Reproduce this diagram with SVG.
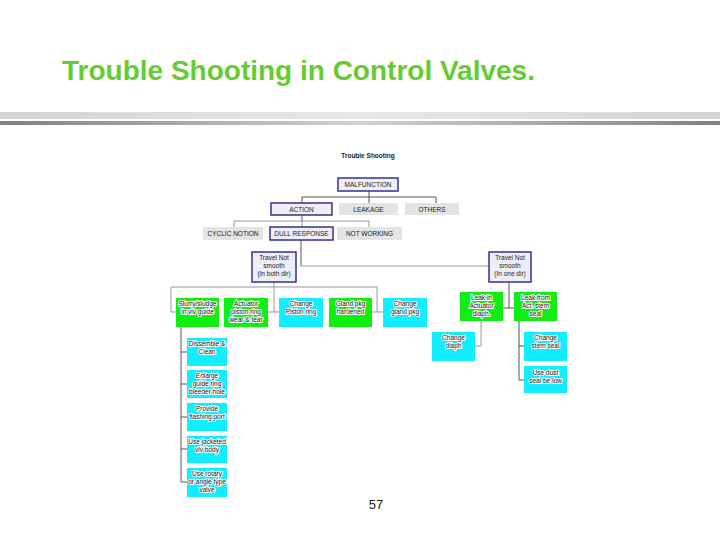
<svg xmlns="http://www.w3.org/2000/svg" width="720" height="540" viewBox="0 0 720 540">
<defs>
<linearGradient id="gLight" x1="0" x2="1" y1="0" y2="0">
<stop offset="0" stop-color="#d4d4d4"/><stop offset="0.5" stop-color="#e8e8e8"/><stop offset="1" stop-color="#d4d4d4"/>
</linearGradient>
<linearGradient id="gDark" x1="0" x2="1" y1="0" y2="0">
<stop offset="0" stop-color="#808080"/><stop offset="0.5" stop-color="#d2d2d2"/><stop offset="1" stop-color="#808080"/>
</linearGradient>
<style>
.title{font-family:"Liberation Sans",Arial,sans-serif;font-weight:bold;font-size:28px;fill:#66cc33}
.t{font-family:"Liberation Sans",Arial,sans-serif;font-size:6.5px;fill:#222;text-anchor:middle}
.tw{font-family:"Liberation Sans",Arial,sans-serif;font-size:6.5px;fill:#111;text-anchor:middle;stroke:#fff;stroke-width:2;paint-order:stroke}
.gray{fill:#e4e4e4}
.blue{fill:#eeeef8;stroke:#333388;stroke-width:1.5}
.green{fill:#11ee11}
.cyan{fill:#11eeff}
.ln{fill:none;stroke:#999;stroke-width:1}
.dk{fill:none;stroke:#555;stroke-width:1}
</style>
</defs>
<rect width="720" height="540" fill="#fff"/>
<text class="title" x="62" y="80">Trouble Shooting in Control Valves.</text>
<rect x="0" y="112" width="720" height="7" fill="url(#gLight)"/>
<rect x="0" y="121" width="720" height="4" fill="url(#gDark)"/>
<text x="368" y="158" style="font-family:'Liberation Sans',Arial,sans-serif;font-weight:bold;font-size:6.5px;fill:#222" text-anchor="middle">Trouble Shooting</text>

<g id="connectors">
<path class="dk" d="M369 191V197M302 197H436M302 197V203M369 197V203M436 197V203"/>
<path class="dk" d="M302 215V221"/>
<path class="ln" d="M234 221H369M234 221V227M302 221V227M369 221V227"/>
<path class="dk" d="M301 240V266"/>
<path class="ln" d="M301 266H490"/>
<path class="ln" d="M274 282V287M171 287H377M171 287V312H176M274 287V312M268 312H279M377 287V312M372 312H383"/>
<path class="dk" d="M181 327V482M181 352H187M181 384H187M181 417H187M181 449H187M181 482H187"/>
<path class="dk" d="M509 282V308M502 308H514"/>
<path class="ln" d="M481 321V346H475"/>
<path class="dk" d="M519 321V380H524M519 346H524"/>
</g>

<g id="malfunction"><rect class="blue" x="338" y="178" width="60" height="13"/><text class="t" x="368" y="187">MALFUNCTION</text></g>
<g id="action"><rect class="blue" x="271" y="203" width="61" height="12"/><text class="t" x="301.5" y="211.5">ACTION</text></g>
<g id="leakage"><rect class="gray" x="339" y="203" width="59" height="12"/><text class="t" x="368.5" y="211.5" fill="#555">LEAKAGE</text></g>
<g id="others"><rect class="gray" x="405" y="203" width="54" height="12"/><text class="t" x="432" y="211.5">OTHERS</text></g>
<g id="cyclic"><rect class="gray" x="203" y="227" width="60" height="13"/><text class="t" x="233" y="236">CYCLIC NOTION</text></g>
<g id="dull"><rect class="blue" x="270" y="227" width="63" height="13"/><text class="t" x="301.5" y="236">DULL RESPONSE</text></g>
<g id="notworking"><rect class="gray" x="337" y="227" width="65" height="13"/><text class="t" x="369.5" y="236">NOT WORKING</text></g>

<g id="travel-both"><rect class="blue" x="252" y="252" width="44" height="30"/><text class="t" x="274" y="260">Travel Not</text><text class="t" x="274" y="268">smooth</text><text class="t" x="274" y="276">(In both dir)</text></g>
<g id="travel-one"><rect class="blue" x="489" y="252" width="42" height="30"/><text class="t" x="510" y="260">Travel Not</text><text class="t" x="510" y="268">smooth</text><text class="t" x="510" y="276">(In one dir)</text></g>

<g id="slurry"><rect class="green" x="176" y="298" width="43" height="29"/><text class="tw" x="197.5" y="306">Slurry/sludge</text><text class="tw" x="197.5" y="314">in vlv guide</text></g>
<g id="actuator"><rect class="green" x="224" y="298" width="44" height="29"/><text class="tw" x="246" y="306">Actuator</text><text class="tw" x="246" y="314">piston ring</text><text class="tw" x="246" y="322">wear &amp; tear</text></g>
<g id="change-piston"><rect class="cyan" x="279" y="298" width="44" height="29"/><text class="tw" x="301" y="306">Change</text><text class="tw" x="301" y="314">Piston ring</text></g>
<g id="gland"><rect class="green" x="329" y="298" width="43" height="29"/><text class="tw" x="350.5" y="306">Gland pkg</text><text class="tw" x="350.5" y="314">hardened</text></g>
<g id="change-gland"><rect class="cyan" x="383" y="298" width="44" height="29"/><text class="tw" x="405" y="306">Change</text><text class="tw" x="405" y="314">gland pkg</text></g>

<g id="dissemble"><rect class="cyan" x="187" y="338" width="40" height="28"/><text class="tw" x="207" y="346">Dissemble &amp;</text><text class="tw" x="207" y="354">Clean</text></g>
<g id="enlarge"><rect class="cyan" x="187" y="370" width="40" height="28"/><text class="tw" x="207" y="378">Enlarge</text><text class="tw" x="207" y="386">guide ring</text><text class="tw" x="207" y="394">bleeder hole</text></g>
<g id="provide"><rect class="cyan" x="187" y="403" width="40" height="28"/><text class="tw" x="207" y="411">Provide</text><text class="tw" x="207" y="419">flashing port</text></g>
<g id="jacketed"><rect class="cyan" x="187" y="436" width="40" height="27"/><text class="tw" x="207" y="444">Use jacketed</text><text class="tw" x="207" y="452">vlv body</text></g>
<g id="rotary"><rect class="cyan" x="187" y="468" width="40" height="29"/><text class="tw" x="207" y="476">Use rotary</text><text class="tw" x="207" y="484">or angle type</text><text class="tw" x="207" y="492">valve</text></g>

<g id="leak-diaph"><rect class="green" x="460" y="292" width="43" height="29"/><text class="tw" x="481.5" y="300">Leak in</text><text class="tw" x="481.5" y="308">Actuator</text><text class="tw" x="481.5" y="316">diaph.</text></g>
<g id="leak-stem"><rect class="green" x="514" y="292" width="43" height="29"/><text class="tw" x="535.5" y="300">Leak from</text><text class="tw" x="535.5" y="308">Act. stem</text><text class="tw" x="535.5" y="316">seal</text></g>
<g id="change-diaph"><rect class="cyan" x="432" y="332" width="43" height="29"/><text class="tw" x="453.5" y="340">Change</text><text class="tw" x="453.5" y="348">diaph</text></g>
<g id="change-stem"><rect class="cyan" x="524" y="332" width="43" height="29"/><text class="tw" x="545.5" y="340">Change</text><text class="tw" x="545.5" y="348">stem seal</text></g>
<g id="dust-seal"><rect class="cyan" x="524" y="366" width="43" height="27"/><text class="tw" x="545.5" y="375">Use dust</text><text class="tw" x="545.5" y="383">seal be low</text></g>

<text x="376" y="509" style="font-family:'Liberation Sans',Arial,sans-serif;font-size:13px;fill:#222" text-anchor="middle">57</text>
</svg>
